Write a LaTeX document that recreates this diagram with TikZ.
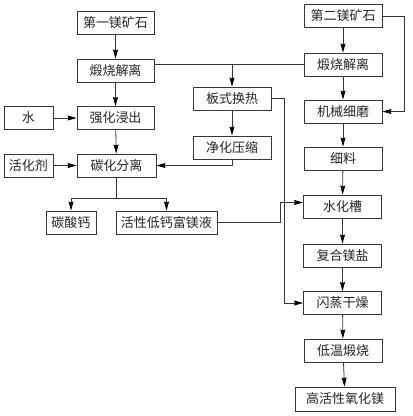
\documentclass[tikz,border=0pt]{standalone}
\usepackage{fontspec}
\newfontfamily\cjk{Noto Sans CJK SC}
\usetikzlibrary{arrows.meta}
\definecolor{linec}{RGB}{55,55,55}
\begin{document}
\begin{tikzpicture}[x=1pt,y=-1pt,
  box/.style={draw=linec,line width=0.9pt,fill=white,inner sep=0pt,minimum height=23pt,
    font=\cjk\fontsize{13}{15}\selectfont,text=black!85},
  arr/.style={draw=linec,line width=0.8pt,-{Stealth[length=9pt,width=5pt,inset=1pt,color=black]}},
  ln/.style={draw=linec,line width=0.8pt}]
\useasboundingbox (0,0) rectangle (413,416);
% left column
\node[box,minimum width=77pt] (m1) at (115.5,23) {第一镁矿石};
\node[box,minimum width=77pt] (c1) at (115.5,70.5) {煅烧解离};
\node[box,minimum width=77pt] (lq) at (115.5,118) {强化浸出};
\node[box,minimum width=49pt] (water) at (28.5,118) {水};
\node[box,minimum width=49pt] (act) at (28.5,165.5) {活化剂};
\node[box,minimum width=79pt] (cs) at (116.5,165.5) {碳化分离};
\node[box,minimum width=50pt] (caco) at (71,222.5) {碳酸钙};
\node[box,minimum width=101pt] (liq) at (166.5,222.5) {活性低钙富镁液};
% middle column
\node[box,minimum width=78pt] (px) at (232,98.5) {板式换热};
\node[box,minimum width=78pt] (jh) at (232,147.5) {净化压缩};
% right column
\node[box,minimum width=78pt] (m2) at (343,16) {第二镁矿石};
\node[box,minimum width=78pt] (c2) at (343,64.5) {煅烧解离};
\node[box,minimum width=78pt] (jx) at (343,111.5) {机械细磨};
\node[box,minimum width=78pt] (xl) at (343,158.5) {细料};
\node[box,minimum width=78pt] (sh) at (342.5,206.5) {水化槽};
\node[box,minimum width=78pt] (fh) at (342.5,255.5) {复合镁盐};
\node[box,minimum width=78pt] (sz) at (342.5,303) {闪蒸干燥};
\node[box,minimum width=78pt] (dw) at (343,350.5) {低温煅烧};
\node[box,minimum width=100pt,minimum height=24pt] (gh) at (345,399) {高活性氧化镁};
% connectors left
\draw[arr] (m1) -- (c1);
\draw[arr] (c1) -- (lq);
\draw[arr] (water) -- (lq);
\draw[arr] (lq) -- (cs);
\draw[arr] (act) -- (cs);
\draw[ln] (c1.east |- c2.west) -- (c2.west);
\draw[arr] (px.north |- c2.west) -- (px.north);
\draw[arr] (px) -- (jh);
\draw[arr] (jh.south) |- (cs.east);
\draw[arr] (cs.south) -- ++(0,21) -| (caco.north);
\draw[arr] (cs.south) -- ++(0,21) -| (liq.north);
\draw[arr] (liq.east) -- ++(63,0) |- ([yshift=4pt]sh.west);
\draw[arr] (px.east) -- ++(13,0) |- (sz.west);
% connectors right
\draw[arr] (m2) -- (c2);
\draw[arr] (c2) -- (jx);
\draw[arr] (jx) -- (xl);
\draw[arr] (xl) -- (sh);
\draw[arr] (sh) -- (fh);
\draw[arr] (fh) -- (sz);
\draw[arr] (sz) -- (dw);
\draw[arr] (dw) -- (gh);
\draw[arr] (m2.east) -- ++(22,0) |- (jx.east);
\end{tikzpicture}
\end{document}
